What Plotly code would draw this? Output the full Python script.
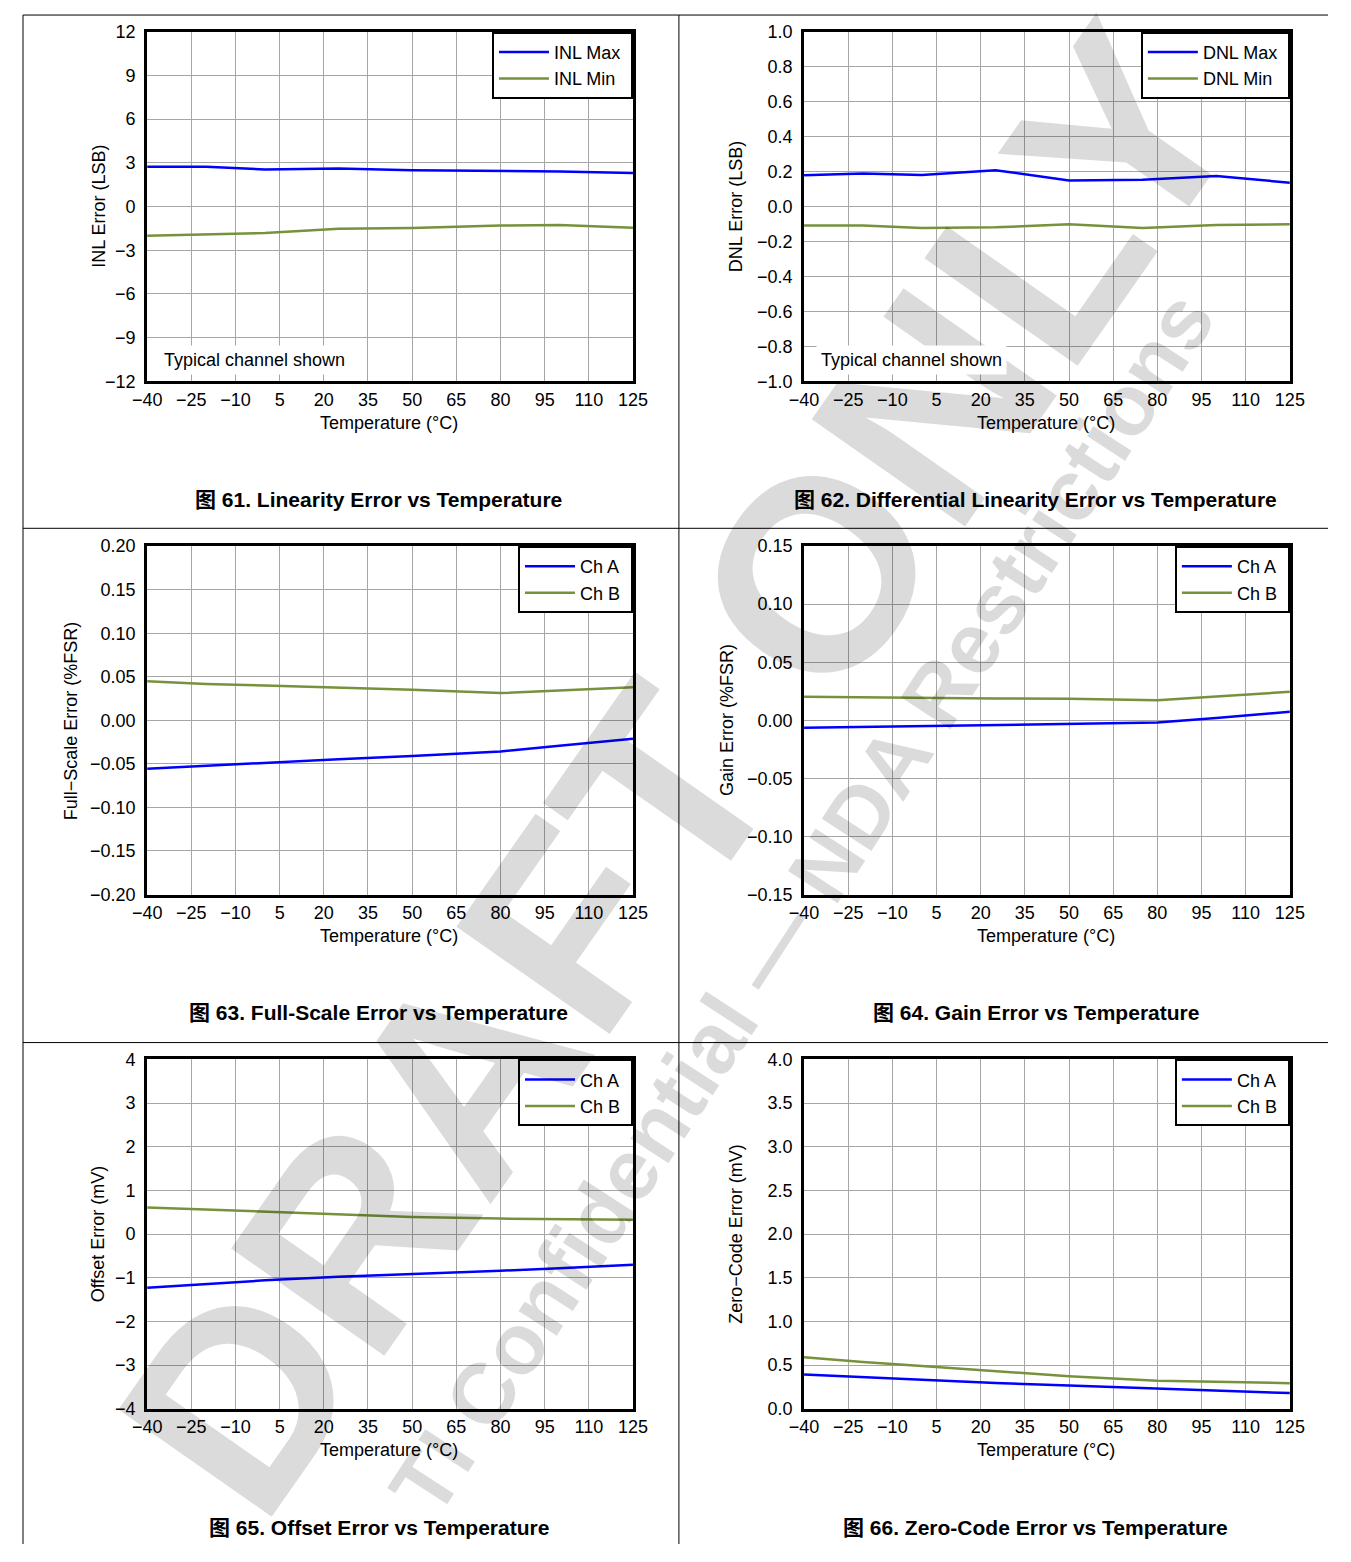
import plotly.graph_objects as go

PAGE_OFF = 8            # body margin of the html page
W, H = 1351 - 2 * PAGE_OFF, 1562 - 2 * PAGE_OFF
FONT = "Liberation Sans, Arial, Noto Sans CJK SC, sans-serif"
BLUE = "#0000FF"
GREEN = "#76923C"

# ---------------- data ----------------
temps = [-40, -20, 0, 25, 50, 80, 100, 125]
temps_dnl = [-40, -20, 0, 25, 50, 75, 100, 125]

inl_max = [2.73, 2.73, 2.55, 2.61, 2.50, 2.45, 2.40, 2.30]
inl_min = [-2.00, -1.91, -1.82, -1.52, -1.48, -1.30, -1.27, -1.45]

dnl_max = [0.179, 0.189, 0.181, 0.208, 0.149, 0.153, 0.175, 0.136]
dnl_min = [-0.109, -0.108, -0.123, -0.119, -0.102, -0.123, -0.106, -0.102]

fs_a = [-0.0555, -0.0520, -0.0487, -0.0447, -0.0410, -0.0357, -0.0293, -0.0213]
fs_b = [0.0447, 0.0418, 0.0399, 0.0375, 0.0350, 0.0312, 0.0342, 0.0380]

gain_a = [-0.0065, -0.0058, -0.0050, -0.0040, -0.0030, -0.0020, 0.0020, 0.0073]
gain_b = [0.0203, 0.0197, 0.0192, 0.0188, 0.0186, 0.0172, 0.0205, 0.0246]

off_a = [-1.23, -1.14, -1.06, -0.98, -0.92, -0.84, -0.78, -0.70]
off_b = [0.61, 0.56, 0.51, 0.45, 0.39, 0.355, 0.34, 0.325]

zc_a = [0.391, 0.36, 0.335, 0.295, 0.265, 0.233, 0.21, 0.18]
zc_b = [0.59, 0.535, 0.49, 0.43, 0.372, 0.32, 0.305, 0.293]

x_ticks = [-40, -25, -10, 5, 20, 35, 50, 65, 80, 95, 110, 125]

panels = [
    dict(x=temps, ys=[inl_max, inl_min], names=["INL Max", "INL Min"], rng=[-12, 12], dtick=3, fmt="d",
         ytitle="INL Error (LSB)", ytx=85, cap="图 61. Linearity Error vs Temperature", note=True),
    dict(x=temps_dnl, ys=[dnl_max, dnl_min], names=["DNL Max", "DNL Min"], rng=[-1, 1], dtick=0.2, fmt=".1f",
         ytitle="DNL Error (LSB)", ytx=737, cap="图 62. Differential Linearity Error vs Temperature", note=True),
    dict(x=temps, ys=[fs_a, fs_b], names=["Ch A", "Ch B"], rng=[-0.2, 0.2], dtick=0.05, fmt=".2f",
         ytitle="Full−Scale Error (%FSR)", ytx=57, cap="图 63. Full-Scale Error vs Temperature", note=False),
    dict(x=temps, ys=[gain_a, gain_b], names=["Ch A", "Ch B"], rng=[-0.15, 0.15], dtick=0.05, fmt=".2f",
         ytitle="Gain Error (%FSR)", ytx=728, cap="图 64. Gain Error vs Temperature", note=False),
    dict(x=temps, ys=[off_a, off_b], names=["Ch A", "Ch B"], rng=[-4, 4], dtick=1, fmt="d",
         ytitle="Offset Error (mV)", ytx=85, cap="图 65. Offset Error vs Temperature", note=False),
    dict(x=temps, ys=[zc_a, zc_b], names=["Ch A", "Ch B"], rng=[0, 4], dtick=0.5, fmt=".1f",
         ytitle="Zero−Code Error (mV)", ytx=737, cap="图 66. Zero-Code Error vs Temperature", note=False),
]

cols = [(135, 632), (807, 1304)]
rows = [(22, 376), (543, 896), (1063, 1417)]
cap_x = [372, 1044]
cell_top = [5, 525, 1046]


def px(x):
    return (x - PAGE_OFF) / W


def py(y):
    return 1 - (y - PAGE_OFF) / H


fig = go.Figure()
annotations = []
shapes = []

# watermark (drawn first so other annotations overlay it)
annotations.append(dict(text="<b>DRAFT ONLY</b>", x=px(680), y=py(770), xref="paper", yref="paper",
                        showarrow=False, textangle=-55, xanchor="center", yanchor="middle",
                        font=dict(family=FONT, size=272, color="rgba(0,0,0,0.14)")))
annotations.append(dict(text="<b>TI Confidential — NDA Restrictions</b>", x=px(805), y=py(905),
                        xref="paper", yref="paper", showarrow=False, textangle=-57,
                        xanchor="center", yanchor="middle",
                        font=dict(family=FONT, size=86, color="rgba(0,0,0,0.14)")))

NB = "\u00a0"
FS = 18
layout = {}
for i, p in enumerate(panels):
    r, c = divmod(i, 2)
    x0, x1 = cols[c]
    y0, y1 = rows[r]
    n = i + 1
    xa = "xaxis" if n == 1 else f"xaxis{n}"
    ya = "yaxis" if n == 1 else f"yaxis{n}"
    xr = "x" if n == 1 else f"x{n}"
    yr = "y" if n == 1 else f"y{n}"
    lg = "legend" if n == 1 else f"legend{n}"
    layout[xa] = dict(domain=[px(x0), px(x1)], anchor=yr, range=[-40, 125], tickmode="array",
                      tickvals=x_ticks, ticktext=[str(v).replace("-", "−") for v in x_ticks],
                      showgrid=True, gridcolor="#A6A6A6", gridwidth=1, zeroline=False,
                      showline=True, linecolor="black", linewidth=3, mirror=True, ticks="",
                      tickfont=dict(family=FONT, size=FS, color="black"))
    layout[ya] = dict(domain=[py(y1), py(y0)], anchor=xr, range=p["rng"], tick0=p["rng"][0],
                      dtick=p["dtick"], tickformat=p["fmt"], ticklabelstandoff=5,
                      showgrid=True, gridcolor="#A6A6A6", gridwidth=1, zeroline=False,
                      showline=True, linecolor="black", linewidth=3, mirror=True, ticks="",
                      tickfont=dict(family=FONT, size=FS, color="black"))
    layout[lg] = dict(x=px(x1), y=py(y0), xanchor="right", yanchor="top", xref="paper", yref="paper",
                      bgcolor="white", bordercolor="black", borderwidth=2, itemwidth=50,
                      font=dict(family=FONT, size=FS, color="black"), tracegroupgap=0)
    for k, (ys, nm) in enumerate(zip(p["ys"], p["names"])):
        fig.add_trace(go.Scatter(x=p["x"], y=ys, name=nm + NB, mode="lines", xaxis=xr, yaxis=yr,
                                 legend=lg, line=dict(color=BLUE if k == 0 else GREEN, width=2.5)))
    # axis titles
    annotations.append(dict(text=p["ytitle"], x=px(p["ytx"]), y=py((y0 + y1) / 2), xref="paper", yref="paper",
                            showarrow=False, textangle=-90, xanchor="center", yanchor="middle",
                            font=dict(family=FONT, size=FS, color="black")))
    annotations.append(dict(text="Temperature (°C)", x=px((x0 + x1) / 2 - 1), y=py(y1 + 42), xref="paper",
                            yref="paper", showarrow=False, xanchor="center", yanchor="middle",
                            font=dict(family=FONT, size=FS, color="black")))
    annotations.append(dict(text="<b>" + p["cap"] + "</b>", x=px(cap_x[c]), y=py(y1 + 120), xref="paper",
                            yref="paper", showarrow=False, xanchor="center", yanchor="middle",
                            font=dict(family=FONT, size=21, color="black")))
    if p["note"]:
        annotations.append(dict(text="Typical channel shown", x=px(x0 + 12), y=py(y1 - 22), xref="paper",
                                yref="paper", showarrow=False, xanchor="left", yanchor="middle",
                                bgcolor="white", borderpad=4,
                                font=dict(family=FONT, size=FS, color="black")))

# table lines
for xv in [8, 679]:
    shapes.append(dict(type="line", xref="paper", yref="paper", x0=px(xv), x1=px(xv), y0=py(5), y1=0,
                       line=dict(color="black", width=1)))
for yv in cell_top:
    shapes.append(dict(type="line", xref="paper", yref="paper", x0=px(8), x1=1, y0=py(yv), y1=py(yv),
                       line=dict(color="black", width=1)))

fig.update_layout(**layout)
fig.update_layout(width=W, height=H, margin=dict(l=0, r=0, t=0, b=0), paper_bgcolor="white",
                  plot_bgcolor="white", showlegend=True, annotations=annotations, shapes=shapes,
                  font=dict(family=FONT, color="black"))
fig.write_html("out.html")
